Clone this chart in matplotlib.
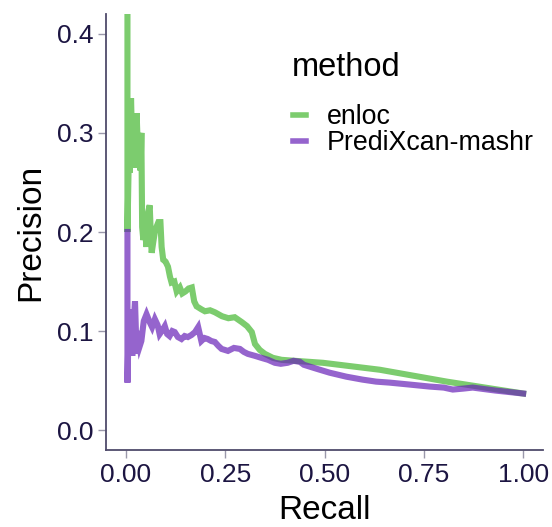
import numpy as np
import matplotlib.pyplot as plt

# precision-recall curves, values
enloc_recall = [0.004, 0.004, 0.008, 0.010, 0.013, 0.017, 0.020, 0.024, 0.027, 0.031,
                0.034, 0.037, 0.039, 0.041, 0.044, 0.048, 0.052, 0.056, 0.060, 0.063,
                0.065, 0.069, 0.073, 0.077, 0.082, 0.087, 0.090, 0.094, 0.100, 0.106,
                0.111, 0.115, 0.122, 0.128, 0.136, 0.142, 0.150, 0.158, 0.166, 0.172,
                0.178, 0.190, 0.199, 0.212, 0.224, 0.242, 0.258, 0.274, 0.292, 0.305,
                0.317, 0.325, 0.337, 0.350, 0.370, 0.392, 0.425, 0.496, 0.639, 0.808, 1.0]
enloc_prec = [1.000, 0.200, 0.290, 0.260, 0.335, 0.270, 0.300, 0.265, 0.320, 0.275,
              0.300, 0.262, 0.300, 0.205, 0.192, 0.202, 0.185, 0.220, 0.227, 0.195,
              0.179, 0.190, 0.200, 0.205, 0.210, 0.210, 0.185, 0.172, 0.170, 0.165,
              0.155, 0.149, 0.150, 0.140, 0.144, 0.138, 0.140, 0.143, 0.144, 0.130,
              0.125, 0.122, 0.120, 0.121, 0.119, 0.115, 0.113, 0.114, 0.109, 0.105,
              0.099, 0.087, 0.081, 0.077, 0.073, 0.071, 0.070, 0.068, 0.061, 0.049, 0.037]

mashr_recall = [0.004, 0.004, 0.008, 0.010, 0.013, 0.016, 0.020, 0.023, 0.027, 0.030,
                0.035, 0.039, 0.045, 0.052, 0.060, 0.066, 0.073, 0.080, 0.085, 0.092,
                0.098, 0.104, 0.110, 0.117, 0.123, 0.131, 0.140, 0.148, 0.156, 0.165,
                0.174, 0.182, 0.190, 0.198, 0.206, 0.215, 0.224, 0.233, 0.241, 0.257,
                0.272, 0.287, 0.297, 0.307, 0.325, 0.341, 0.358, 0.375, 0.390, 0.407,
                0.422, 0.438, 0.448, 0.480, 0.513, 0.555, 0.596, 0.630, 0.664, 0.715,
                0.765, 0.800, 0.823, 0.850, 0.873, 0.930, 1.0]
mashr_prec = [0.200, 0.048, 0.122, 0.085, 0.120, 0.075, 0.110, 0.130, 0.077, 0.100,
              0.085, 0.090, 0.110, 0.117, 0.109, 0.104, 0.112, 0.106, 0.097, 0.101,
              0.105, 0.097, 0.095, 0.100, 0.099, 0.094, 0.092, 0.095, 0.094, 0.096,
              0.099, 0.104, 0.090, 0.093, 0.092, 0.090, 0.089, 0.085, 0.082, 0.080,
              0.083, 0.082, 0.079, 0.077, 0.075, 0.073, 0.071, 0.068, 0.067, 0.068,
              0.070, 0.069, 0.066, 0.062, 0.058, 0.054, 0.051, 0.049, 0.048, 0.046,
              0.044, 0.043, 0.041, 0.042, 0.043, 0.040, 0.037]

green = (68/255, 183/255, 48/255)
purple = (105/255, 34/255, 184/255)
navy = '#1c1542'

plt.rcParams['font.family'] = ['Liberation Sans', 'DejaVu Sans']

fig = plt.figure(figsize=(5.52, 5.27), dpi=100)
ax = fig.add_axes([106/552, 1 - 450/527, (543 - 106)/552, (450 - 14)/527])

ax.plot(enloc_recall, enloc_prec, color=green, alpha=0.7, lw=4.4,
        solid_joinstyle='miter', label='enloc')
ax.plot(mashr_recall, mashr_prec, color=purple, alpha=0.7, lw=4.4,
        solid_joinstyle='miter', label='PrediXcan-mashr')

ax.set_xlim(-0.05, 1.05)
ax.set_ylim(-0.02, 0.42)
ax.set_xticks([0, 0.25, 0.5, 0.75, 1.0])
ax.set_xticklabels(['0.00', '0.25', '0.50', '0.75', '1.00'])
ax.set_yticks([0, 0.1, 0.2, 0.3, 0.4])
ax.set_yticklabels(['0.0', '0.1', '0.2', '0.3', '0.4'])

for side in ['top', 'right']:
    ax.spines[side].set_visible(False)
for side in ['left', 'bottom']:
    ax.spines[side].set_color('#4f4b6b')
    ax.spines[side].set_linewidth(1.3)
ax.tick_params(length=6, width=1, color='#9a98aa', labelcolor=navy,
               labelsize=19, pad=3)

ax.set_xlabel('Recall', fontsize=24, labelpad=6)
ax.set_ylabel('Precision', fontsize=24, labelpad=8)

fig.text(292/552, 1 - 68/527, 'method', fontsize=23.5, va='center', ha='left')
leg = ax.legend(loc='upper left', frameon=False,
                bbox_to_anchor=(293/552, 1 - 104/527), bbox_transform=fig.transFigure,
                fontsize=19.3, handlelength=0.5,
                handletextpad=0.75, labelspacing=0.0, borderpad=0, borderaxespad=0)
for h in leg.get_lines():
    h.set_linewidth(4)

fig.savefig('out.png', dpi=100)
